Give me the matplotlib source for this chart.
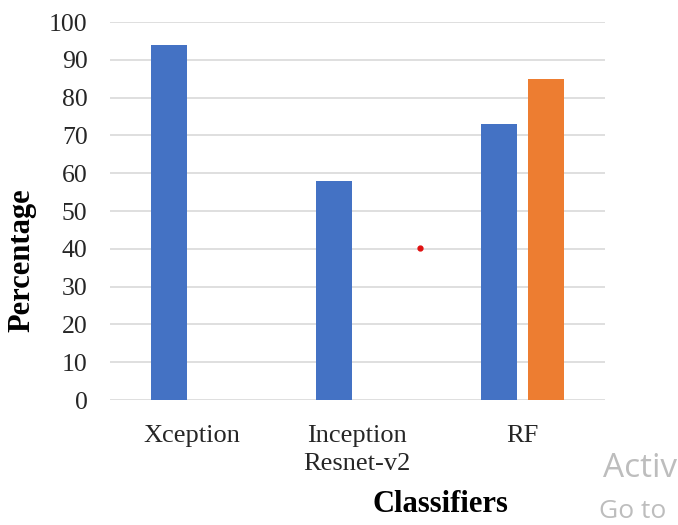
import numpy as np
import matplotlib
matplotlib.use("Agg")
import matplotlib.pyplot as plt

categories = ["Xception", "Inception\nResnet-v2", "RF"]
series_a = [94, 58, 73]
series_b = [np.nan, np.nan, 85]
yticks = [0, 10, 20, 30, 40, 50, 60, 70, 80, 90, 100]
stray_dot = (1.38, 40.2)

plt.rcParams["font.family"] = ["Liberation Serif", "DejaVu Serif"]

fig = plt.figure(figsize=(6.78, 5.25), dpi=100)
ax = fig.add_axes([0.162, 0.238, 0.730, 0.720])

x = np.arange(len(categories))
w = 0.218
off = 0.142
ax.bar(x - off, series_a, w, color="#4472C4", zorder=3)
b = np.array(series_b, dtype=float)
m = ~np.isnan(b)
ax.bar(x[m] + off, b[m], w, color="#ED7D31", zorder=3)

ax.plot(*stray_dot, "o", color="#e01010", ms=3.5, zorder=4)

ax.set_xlim(-0.5, len(categories) - 0.5)
ax.set_ylim(0, 100)
ax.set_yticks(yticks)
ax.set_xticks(x)
ax.set_xticklabels(categories, fontsize=19, linespacing=1.35, color="#262626")
ax.tick_params(axis="y", labelsize=18.5, length=0, pad=16, labelcolor="#262626")
ax.tick_params(axis="x", length=0, pad=18)
ax.yaxis.grid(True, color="#d9d9d9", lw=1.2, zorder=0)
for s in ["top", "right", "left", "bottom"]:
    ax.spines[s].set_visible(False)

fig.text(0.033, 0.505, "Percentage", fontsize=22, fontweight="bold",
         rotation=90, ha="center", va="center")
fig.text(0.649, 0.040, "Classifiers", fontsize=22, fontweight="bold",
         ha="center", va="center")

# watermark remnants at the bottom right
fig.text(0.890, 0.108, "Activ", fontsize=24, color="#bdbdbd",
         family="Open Sans", ha="left", va="center")
fig.text(0.884, 0.026, "Go to", fontsize=19, color="#bdbdbd",
         family="Open Sans", ha="left", va="center")

fig.savefig("out.png", dpi=100)
